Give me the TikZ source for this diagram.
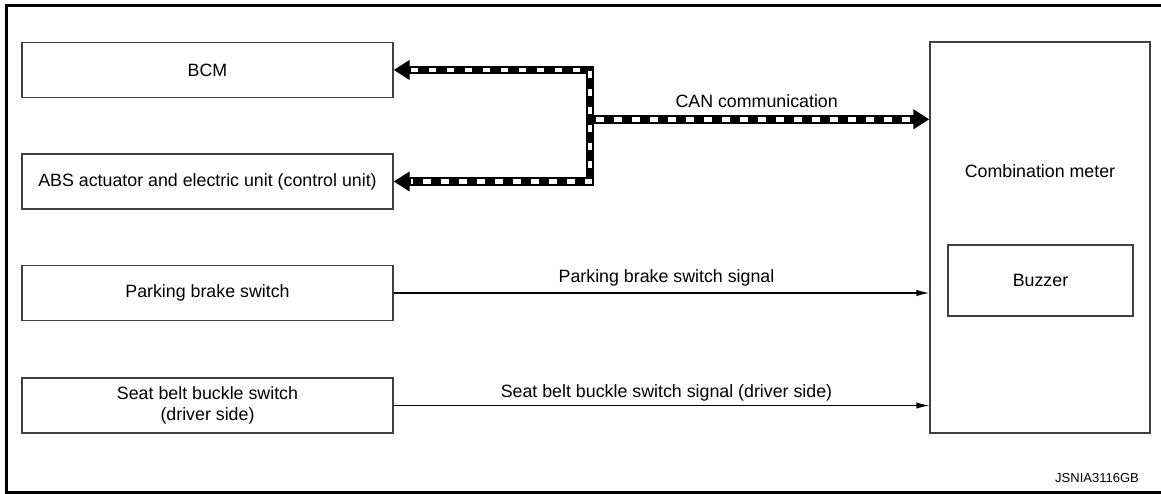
\documentclass[tikz,border=0pt]{standalone}
\usepackage{fontspec}
\setmainfont{Liberation Sans}
\usetikzlibrary{arrows.meta}
\begin{document}
\begin{tikzpicture}[x=1pt,y=-1pt,
  txt/.style={font=\fontsize{17.8}{21}\selectfont, text=black, inner sep=0pt, align=center},
  box/.style={txt, draw=black!75, line width=1.3pt, minimum width=371pt, minimum height=55pt},
  meterbox/.style={draw=black!75, line width=1.3pt, minimum width=220pt, minimum height=391pt, inner sep=0pt},
  buzzbox/.style={txt, draw=black!75, line width=1.3pt, minimum width=185pt, minimum height=71pt},
  sig/.style={line width=1.3pt, -{Latex[length=13pt,width=6.5pt]}},
  canblack/.style={line width=8.5pt, black},
  canwhite/.style={line width=4.5pt, white, dash pattern=on 7.5pt off 10.5pt},
  lbl/.style={txt, anchor=base}
]
\useasboundingbox (0,0) rectangle (1161,494);
% frame
\draw[line width=3pt] (1161,5.5) -- (6.5,5.5) -- (6.5,492.5) -- (1161,492.5);

% left units
\node[box] (bcm) at (207.5,70) {BCM};
\node[box] (abs) at (207.5,181.5) {ABS actuator and electric unit (control unit)};
\node[box] (pbs) at (207.5,293) {Parking brake switch};
\node[box] (sbs) at (207.5,405.5) {Seat belt buckle switch\\(driver side)};

% combination meter
\node[meterbox] (cm) at (1040,237.5) {};
\node[txt] (cmt) at (1040,171) {Combination meter};
\node[buzzbox] (buz) at (1040.5,280.5) {Buzzer};

% CAN communication
\coordinate (j) at (590,119.3);
\draw[canblack, {Triangle[length=16pt,width=19pt]}-{Triangle[length=16pt,width=19pt]}]
  (bcm.east) -| (j) |- (abs.east);
\draw[canwhite, shorten <=17pt, shorten >=17pt] (bcm.east) -| (j) |- (abs.east);
\draw[canblack, -{Triangle[length=16pt,width=19pt]}] (j) -- (cm.west |- j);
\draw[canwhite, shorten <=6pt, shorten >=17pt] (j) -- (cm.west |- j)
  node[lbl, midway, yshift=12pt, xshift=-3pt] {CAN communication};

% signals
\draw[sig] (pbs.east) -- (cm.west |- pbs.east)
  node[lbl, midway, yshift=10pt, xshift=5pt] {Parking brake switch signal};
\draw[sig] (sbs.east) -- (cm.west |- sbs.east)
  node[lbl, midway, yshift=8pt, xshift=5pt] {Seat belt buckle switch signal (driver side)};

% figure id
\node[txt, font=\fontsize{13}{15}\selectfont, anchor=base east] (fid) at (1139,482) {JSNIA3116GB};
\end{tikzpicture}
\end{document}
